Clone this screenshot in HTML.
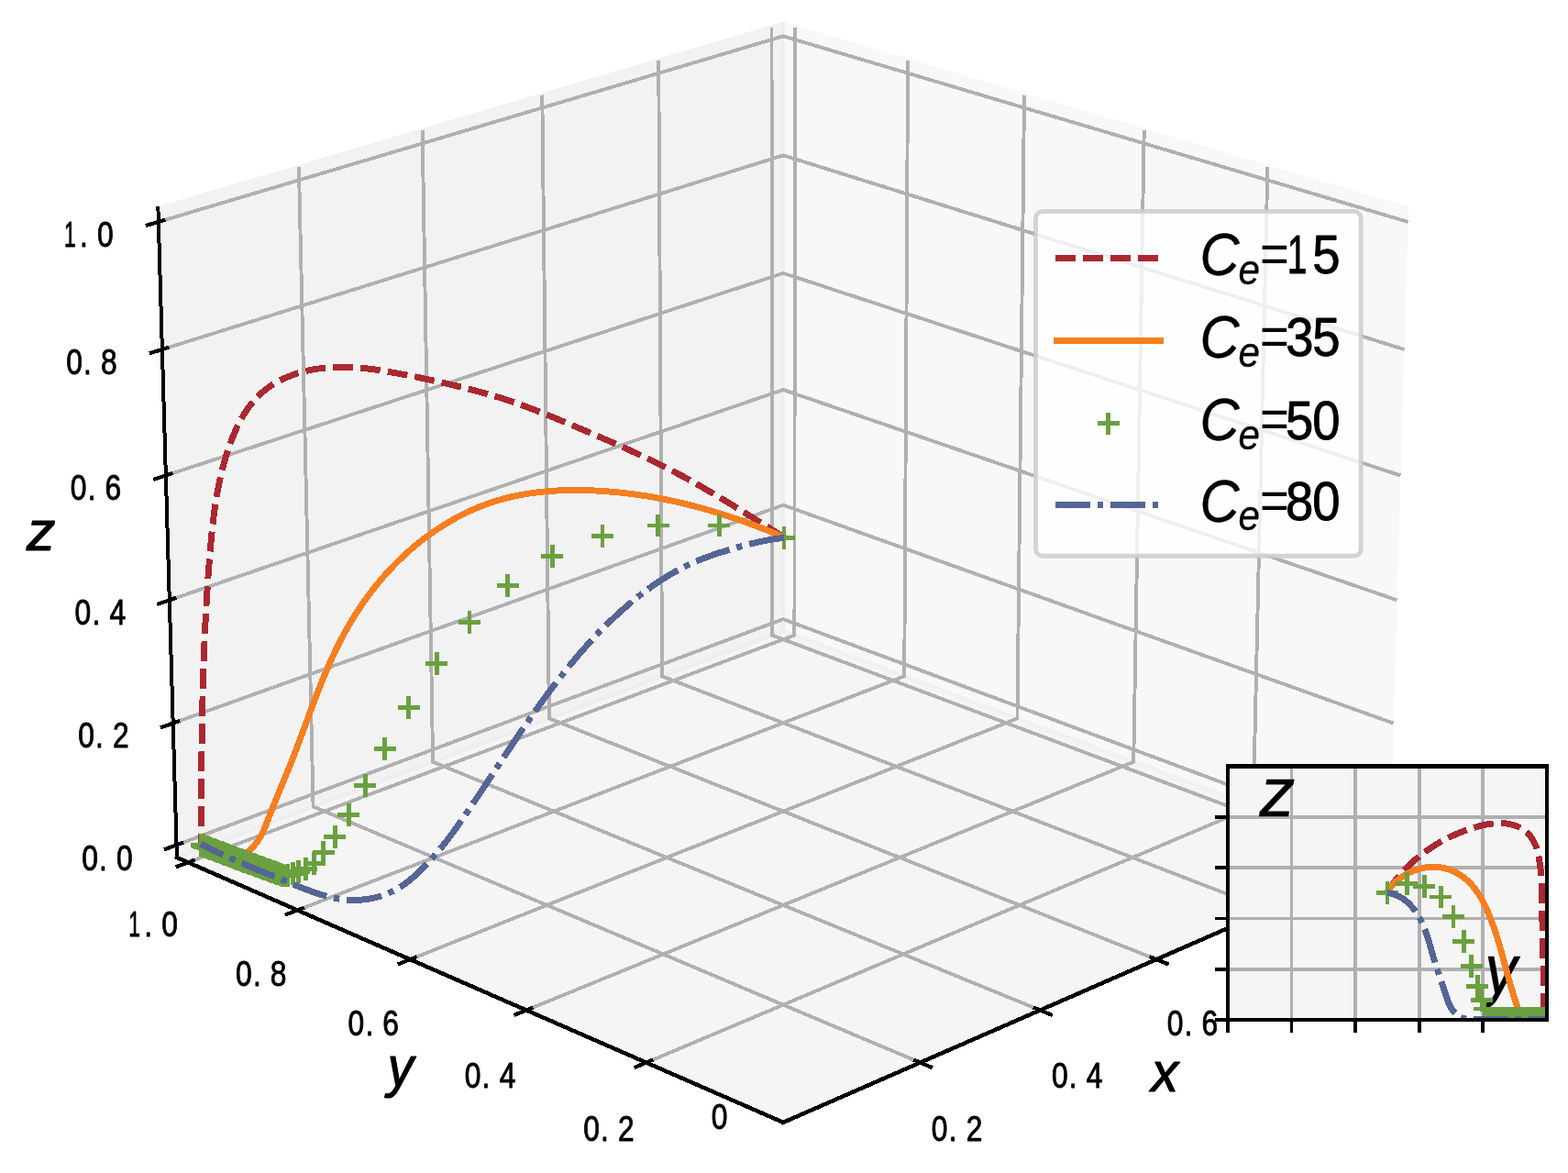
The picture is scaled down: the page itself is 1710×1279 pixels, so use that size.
<!DOCTYPE html>
<html><head><meta charset="utf-8"><title>Evolution trajectories</title>
<style>html,body{margin:0;padding:0;background:#fff}svg{display:block}path,polyline,rect,polygon,line{shape-rendering:crispEdges}text{font-family:"Liberation Sans",sans-serif;fill:#000;stroke:#000;stroke-width:0.9px;stroke-linejoin:round}.it{font-style:italic;stroke-width:0.35px}.ax{stroke-width:1.2px}</style>
</head><body>
<svg width="1710" height="1279" viewBox="0 0 1710 1279">
<rect width="1710" height="1279" fill="#fff"/>
<g opacity="0.5"><polygon points="1515.4,935.04 854.17,688 854.17,25.82 1535.91,227.33" fill="rgb(242,242,242)"/><polyline points="1515.4,935.04 854.17,688 854.17,25.82 1535.91,227.33" fill="none" stroke="rgb(242,242,242)" stroke-width="4.17" stroke-linejoin="miter"/></g>
<g opacity="0.5"><polygon points="192.93,935.04 854.17,688 854.17,25.82 172.42,227.33" fill="rgb(230,230,230)"/><polyline points="192.93,935.04 854.17,688 854.17,25.82 172.42,227.33" fill="none" stroke="rgb(230,230,230)" stroke-width="4.17" stroke-linejoin="miter"/></g>
<g opacity="0.5"><polygon points="854.17,1223.84 1515.4,935.04 854.17,688 192.93,935.04" fill="rgb(236,236,236)"/><polyline points="854.17,1223.84 1515.4,935.04 854.17,688 192.93,935.04" fill="none" stroke="rgb(236,236,236)" stroke-width="4.17" stroke-linejoin="miter"/></g>
<g fill="none" stroke="#b0b0b0" stroke-width="3.9" stroke-linejoin="round">
<polyline points="1003.52,1158.61 341.58,879.51 325.95,181.95"/>
<polyline points="704.81,1158.61 1366.75,879.51 1382.38,181.95"/>
<polyline points="1134.31,1101.49 472.1,830.74 460.62,142.14"/>
<polyline points="574.02,1101.49 1236.24,830.74 1247.71,142.14"/>
<polyline points="1261.07,1046.12 598.88,783.37 591.33,103.51"/>
<polyline points="447.26,1046.12 1109.45,783.37 1117,103.51"/>
<polyline points="1383.97,992.45 722.09,737.34 718.24,66"/>
<polyline points="324.36,992.45 986.24,737.34 990.09,66"/>
<polyline points="1503.19,940.38 841.88,692.59 841.53,29.55"/>
<polyline points="205.14,940.38 866.45,692.59 866.8,29.55"/>
<polyline points="192.53,921.31 854.17,675.12 1515.8,921.31"/>
<polyline points="188.68,788.59 854.17,550.72 1519.65,788.59"/>
<polyline points="184.79,654.32 854.17,424.98 1523.54,654.32"/>
<polyline points="180.86,518.47 854.17,297.86 1527.47,518.47"/>
<polyline points="176.87,381.01 854.17,169.36 1531.46,381.01"/>
<polyline points="172.84,241.92 854.17,39.43 1535.49,241.92"/>
</g>
<g fill="none" stroke="#000" stroke-width="4.5" stroke-linecap="square">
<polyline stroke-width="4" points="172.42,227.33 192.93,935.04"/>
<polyline points="192.93,935.04 854.17,1223.84"/>
<polyline points="854.17,1223.84 1515.4,935.04"/>
</g>
<g fill="none" stroke="#000" stroke-width="4.2">
<path d="M178.94,926.36L200.03,918.52"/>
<path d="M175.03,793.47L196.22,785.9"/>
<path d="M171.08,659.02L192.36,651.72"/>
<path d="M167.08,522.98L188.46,515.98"/>
<path d="M163.03,385.33L184.51,378.62"/>
<path d="M158.94,246.05L180.51,239.64"/>
<path d="M691.45,1164.25L712.18,1155.51"/>
<path d="M1016.88,1164.25L996.15,1155.51"/>
<path d="M560.59,1106.97L581.42,1098.46"/>
<path d="M1147.74,1106.97L1126.91,1098.46"/>
<path d="M433.78,1051.47L454.7,1043.17"/>
<path d="M1274.55,1051.47L1253.64,1043.17"/>
<path d="M310.83,997.66L331.82,989.57"/>
<path d="M1397.5,997.66L1376.51,989.57"/>
<path d="M191.56,945.47L212.63,937.57"/>
<path d="M1516.77,945.47L1495.7,937.57"/>
</g>
<g font-size="38.3">
<text transform="translate(95.9,269.28) scale(0.83,1)"><tspan x="-31.17" y="0" textLength="15.33" lengthAdjust="spacingAndGlyphs">1</tspan><tspan x="-10.75 12.12" y="0">.0</tspan></text>
<text transform="translate(100,408.38) scale(0.83,1)"><tspan x="-33.42 -10.75 12.12" y="0">0.8</tspan></text>
<text transform="translate(104.6,545.18) scale(0.83,1)"><tspan x="-33.42 -10.75 11.99" y="0">0.6</tspan></text>
<text transform="translate(109.3,681.08) scale(0.83,1)"><tspan x="-33.42 -10.75 12.24" y="0">0.4</tspan></text>
<text transform="translate(113,815.28) scale(0.83,1)"><tspan x="-33.42 -10.75 12.12" y="0">0.2</tspan></text>
<text transform="translate(117,948.58) scale(0.83,1)"><tspan x="-33.42 -10.75 12.12" y="0">0.0</tspan></text>
<text transform="translate(166.2,1021.18) scale(0.83,1)"><tspan x="-31.17" y="0" textLength="15.33" lengthAdjust="spacingAndGlyphs">1</tspan><tspan x="-10.75 12.12" y="0">.0</tspan></text>
<text transform="translate(284.8,1074.68) scale(0.83,1)"><tspan x="-33.42 -10.75 12.12" y="0">0.8</tspan></text>
<text transform="translate(407.3,1128.88) scale(0.83,1)"><tspan x="-33.42 -10.75 11.99" y="0">0.6</tspan></text>
<text transform="translate(534.5,1185.68) scale(0.83,1)"><tspan x="-33.42 -10.75 12.24" y="0">0.4</tspan></text>
<text transform="translate(664,1243.58) scale(0.83,1)"><tspan x="-33.42 -10.75 12.12" y="0">0.2</tspan></text>
<text transform="translate(1043.6,1243.58) scale(0.83,1)"><tspan x="-33.42 -10.75 12.12" y="0">0.2</tspan></text>
<text transform="translate(1174.7,1185.68) scale(0.83,1)"><tspan x="-33.42 -10.75 12.24" y="0">0.4</tspan></text>
<text transform="translate(1300.5,1129.08) scale(0.83,1)"><tspan x="-33.42 -10.75 11.99" y="0">0.6</tspan></text>
<text transform="translate(784.5,1231.38) scale(0.83,1)"><tspan x="-10.65" y="0">0</tspan></text>
</g>
<text class="it ax" font-size="61.5" transform="translate(29.08,599.7) scale(1.02,1)">z</text><text class="it ax" font-size="61.5" transform="translate(422.72,1183.57) scale(0.92,1)">y</text><text class="it ax" font-size="61.5" transform="translate(1255.47,1190.3) scale(0.96,1)">x</text>
<g fill="none" stroke-width="6.9" stroke-linejoin="round">
<path d="M855,585.8 851.6,583.69 848.2,581.58 844.81,579.46 841.41,577.34 838.01,575.22 834.62,573.09 831.22,570.97 827.83,568.85 824.43,566.72 821.03,564.6 817.63,562.48 814.23,560.37 810.82,558.26 807.41,556.15 804,554.04 800.59,551.95 797.17,549.86 793.75,547.77 790.32,545.7 786.89,543.63 783.45,541.57 780.01,539.52 776.57,537.48 773.11,535.46 769.65,533.44 766.18,531.44 762.71,529.45 759.23,527.48 755.74,525.52 752.24,523.57 748.73,521.64 745.22,519.73 741.69,517.84 738.15,515.96 734.61,514.11 731.06,512.27 727.49,510.45 723.92,508.64 720.34,506.85 716.75,505.08 713.15,503.32 709.55,501.58 705.94,499.85 702.32,498.13 698.69,496.43 695.06,494.74 691.42,493.06 687.78,491.39 684.13,489.74 680.48,488.09 676.82,486.45 673.16,484.82 669.49,483.2 665.82,481.59 662.15,479.99 658.47,478.39 654.79,476.8 651.11,475.21 647.42,473.63 643.74,472.05 640.05,470.48 636.36,468.91 632.67,467.34 628.98,465.78 625.29,464.22 621.59,462.66 617.9,461.11 614.2,459.56 610.5,458.02 606.8,456.49 603.1,454.97 599.39,453.47 595.67,451.97 591.95,450.49 588.23,449.02 584.5,447.57 580.76,446.14 577.02,444.72 573.27,443.33 569.52,441.95 565.75,440.6 561.98,439.27 558.2,437.97 554.41,436.69 550.61,435.44 546.8,434.21 542.98,433.02 539.14,431.85 535.3,430.71 531.45,429.6 527.6,428.51 523.73,427.45 519.86,426.4 515.98,425.38 512.1,424.38 508.21,423.39 504.32,422.43 500.42,421.47 496.52,420.53 492.62,419.61 488.71,418.69 484.81,417.79 480.9,416.9 476.99,416.01 473.08,415.14 469.17,414.29 465.26,413.44 461.34,412.61 457.43,411.79 453.51,410.98 449.59,410.19 445.67,409.41 441.74,408.65 437.82,407.9 433.89,407.17 429.96,406.45 426.02,405.75 422.09,405.08 418.15,404.43 414.2,403.8 410.25,403.22 406.3,402.67 402.33,402.16 398.36,401.71 394.39,401.31 390.4,400.96 386.4,400.68 382.4,400.46 378.38,400.32 374.35,400.25 370.31,400.27 366.26,400.36 362.2,400.55 358.13,400.83 354.08,401.2 350.03,401.66 345.99,402.22 341.97,402.88 337.98,403.65 334.02,404.51 330.09,405.49 326.21,406.57 322.37,407.76 318.58,409.07 314.86,410.49 311.19,412.04 307.59,413.7 304.06,415.48 300.62,417.39 297.25,419.43 293.98,421.6 290.8,423.9 287.72,426.33 284.75,428.9 281.88,431.61 279.12,434.44 276.48,437.39 273.93,440.45 271.5,443.61 269.18,446.87 266.96,450.21 264.86,453.64 262.86,457.13 260.95,460.69 259.15,464.31 257.43,467.98 255.79,471.68 254.23,475.43 252.74,479.19 251.31,482.98 249.95,486.78 248.65,490.59 247.4,494.42 246.21,498.26 245.07,502.11 243.99,505.97 242.96,509.84 241.97,513.72 241.04,517.61 240.14,521.51 239.3,525.42 238.49,529.33 237.73,533.26 237,537.19 236.31,541.13 235.65,545.08 235.03,549.03 234.44,552.99 233.88,556.96 233.35,560.93 232.85,564.9 232.36,568.88 231.91,572.86 231.47,576.85 231.05,580.84 230.65,584.83 230.27,588.82 229.9,592.81 229.55,596.81 229.2,600.81 228.87,604.8 228.54,608.8 228.22,612.8 227.91,616.8 227.6,620.79 227.3,624.79 227.01,628.79 226.73,632.79 226.46,636.79 226.19,640.78 225.93,644.78 225.68,648.78 225.43,652.78 225.19,656.78 224.96,660.78 224.73,664.77 224.51,668.77 224.3,672.77 224.09,676.77 223.89,680.77 223.69,684.77 223.5,688.77 223.32,692.77 223.14,696.77 222.97,700.77 222.81,704.77 222.65,708.77 222.49,712.77 222.34,716.77 222.2,720.77 222.06,724.77 221.92,728.77 221.79,732.77 221.67,736.77 221.55,740.78 221.43,744.78 221.32,748.78 221.21,752.78 221.11,756.78 221.01,760.78 220.92,764.79 220.82,768.79 220.74,772.79 220.65,776.79 220.58,780.8 220.5,784.8 220.43,788.8 220.36,792.81 220.29,796.81 220.23,800.81 220.17,804.82 220.11,808.82 220.06,812.82 220.01,816.83 219.96,820.83 219.91,824.84 219.87,828.84 219.83,832.85 219.79,836.85 219.75,840.86 219.72,844.86 219.68,848.87 219.65,852.87 219.62,856.88 219.6,860.89 219.57,864.89 219.54,868.9 219.52,872.91 219.5,876.91 219.48,880.92 219.46,884.93 219.44,888.93 219.42,892.94 219.4,896.95 219.38,900.96 219.36,904.97 219.35,908.97 219.33,912.98 219.32,916.99 219.3,921" stroke="#aa2830" stroke-dasharray="21.9 8.1"/>
<path d="M855,585.8 851.31,584.23 847.61,582.68 843.9,581.15 840.18,579.63 836.45,578.14 832.72,576.66 828.97,575.21 825.22,573.77 821.46,572.36 817.69,570.96 813.91,569.59 810.13,568.24 806.33,566.91 802.53,565.6 798.73,564.31 794.91,563.05 791.09,561.81 787.26,560.59 783.42,559.4 779.57,558.23 775.72,557.09 771.86,555.96 768,554.87 764.13,553.8 760.25,552.75 756.36,551.73 752.47,550.74 748.57,549.77 744.67,548.83 740.76,547.92 736.85,547.03 732.92,546.17 729,545.34 725.07,544.53 721.13,543.76 717.19,543.01 713.24,542.3 709.28,541.61 705.33,540.95 701.36,540.32 697.39,539.72 693.42,539.16 689.45,538.62 685.46,538.11 681.48,537.64 677.49,537.2 673.49,536.79 669.5,536.41 665.49,536.07 661.49,535.75 657.48,535.48 653.47,535.23 649.45,535.02 645.43,534.84 641.41,534.7 637.38,534.59 633.35,534.52 629.32,534.49 625.29,534.49 621.26,534.54 617.23,534.62 613.21,534.75 609.18,534.92 605.16,535.14 601.14,535.4 597.13,535.71 593.13,536.08 589.13,536.49 585.15,536.95 581.17,537.47 577.2,538.04 573.24,538.67 569.3,539.35 565.36,540.1 561.44,540.9 557.54,541.77 553.65,542.7 549.78,543.69 545.92,544.75 542.09,545.88 538.27,547.07 534.47,548.34 530.7,549.67 526.94,551.06 523.21,552.53 519.5,554.05 515.82,555.64 512.15,557.29 508.52,559 504.91,560.78 501.32,562.61 497.77,564.5 494.24,566.44 490.74,568.44 487.27,570.49 483.83,572.6 480.42,574.76 477.04,576.97 473.7,579.23 470.38,581.53 467.1,583.89 463.86,586.29 460.65,588.73 457.48,591.23 454.34,593.76 451.24,596.33 448.18,598.95 445.16,601.6 442.18,604.3 439.23,607.03 436.32,609.8 433.46,612.61 430.63,615.45 427.84,618.33 425.08,621.25 422.37,624.2 419.69,627.18 417.06,630.2 414.46,633.25 411.9,636.33 409.37,639.44 406.89,642.58 404.44,645.76 402.04,648.96 399.67,652.19 397.34,655.45 395.05,658.73 392.79,662.05 390.58,665.38 388.4,668.75 386.26,672.14 384.16,675.55 382.09,678.98 380.07,682.44 378.08,685.92 376.13,689.43 374.22,692.95 372.35,696.49 370.51,700.05 368.71,703.63 366.94,707.23 365.2,710.85 363.49,714.48 361.81,718.12 360.15,721.78 358.53,725.46 356.93,729.14 355.35,732.84 353.79,736.55 352.25,740.27 350.73,744 349.23,747.74 347.75,751.48 346.28,755.24 344.82,759 343.38,762.76 341.95,766.53 340.52,770.3 339.11,774.08 337.7,777.86 336.29,781.64 334.89,785.42 333.49,789.2 332.09,792.98 330.69,796.76 329.29,800.53 327.89,804.31 326.48,808.07 325.06,811.84 323.64,815.59 322.21,819.34 320.76,823.08 319.31,826.82 317.84,830.54 316.36,834.26 314.86,837.97 313.36,841.67 311.85,845.36 310.32,849.06 308.8,852.75 307.27,856.44 305.74,860.13 304.22,863.82 302.69,867.52 301.18,871.22 299.67,874.94 298.16,878.66 296.68,882.39 295.2,886.13 293.74,889.89 292.29,893.67 290.83,897.44 289.32,901.19 287.72,904.9 286,908.55 284.11,912.13 282.03,915.61 279.71,918.97 277.14,922.17 274.33,925.15 271.3,927.82 268.08,930.11 264.68,931.94 261.11,933.23 257.41,933.91 253.58,933.96 249.67,933.45 245.71,932.49 241.72,931.19 237.75,929.65 233.83,927.98 229.99,926.27 226.27,924.63 222.69,923.18 219.3,922" stroke="#f57f20" stroke-linecap="square"/>
</g>
<g fill="none" stroke="#6aa03f" stroke-width="4.9">
<path d="M843,586.4h24M855,574v24.8"/>
<path d="M772.2,573h24M784.2,560.6v24.8"/>
<path d="M705.8,573h24M717.8,560.6v24.8"/>
<path d="M645,584.4h24M657,572v24.8"/>
<path d="M590.4,606.3h24M602.4,593.9v24.8"/>
<path d="M541.9,638.6h24M553.9,626.2v24.8"/>
<path d="M500,678.4h24M512,666v24.8"/>
<path d="M464.1,723.3h24M476.1,710.9v24.8"/>
<path d="M433.6,771.6h24M445.6,759.2v24.8"/>
<path d="M407.9,816.4h24M419.9,804v24.8"/>
<path d="M386.2,856.4h24M398.2,844v24.8"/>
<path d="M368.2,888.4h24M380.2,876v24.8"/>
<path d="M353.3,912.6h24M365.3,900.2v24.8"/>
<path d="M340.6,929.5h24M352.6,917.1v24.8"/>
<path d="M330.7,941.5h24M342.7,929.1v24.8"/>
<path d="M321.6,947.1h24M333.6,934.7v24.8"/>
<path d="M313.8,950.6h24M325.8,938.2v24.8"/>
<path d="M307.5,952.8h24M319.5,940.4v24.8"/>
<path d="M301.9,954.2h24M313.9,941.8v24.8"/>
<path d="M297.7,954.9h24M309.7,942.5v24.8"/>
<path d="M296,954.5h24M308,942.1v24.8"/>
<path d="M294.03,953.77h24M306.03,941.37v24.8"/>
<path d="M292.07,953.04h24M304.07,940.64v24.8"/>
<path d="M290.1,952.31h24M302.1,939.91v24.8"/>
<path d="M288.13,951.58h24M300.13,939.18v24.8"/>
<path d="M286.17,950.84h24M298.17,938.44v24.8"/>
<path d="M284.2,950.11h24M296.2,937.71v24.8"/>
<path d="M282.23,949.38h24M294.23,936.98v24.8"/>
<path d="M280.27,948.65h24M292.27,936.25v24.8"/>
<path d="M278.3,947.92h24M290.3,935.52v24.8"/>
<path d="M276.33,947.19h24M288.33,934.79v24.8"/>
<path d="M274.37,946.46h24M286.37,934.06v24.8"/>
<path d="M272.4,945.73h24M284.4,933.33v24.8"/>
<path d="M270.43,945h24M282.43,932.6v24.8"/>
<path d="M268.47,944.26h24M280.47,931.86v24.8"/>
<path d="M266.5,943.53h24M278.5,931.13v24.8"/>
<path d="M264.53,942.8h24M276.53,930.4v24.8"/>
<path d="M262.57,942.07h24M274.57,929.67v24.8"/>
<path d="M260.6,941.34h24M272.6,928.94v24.8"/>
<path d="M258.63,940.61h24M270.63,928.21v24.8"/>
<path d="M256.67,939.88h24M268.67,927.48v24.8"/>
<path d="M254.7,939.15h24M266.7,926.75v24.8"/>
<path d="M252.73,938.42h24M264.73,926.02v24.8"/>
<path d="M250.77,937.68h24M262.77,925.28v24.8"/>
<path d="M248.8,936.95h24M260.8,924.55v24.8"/>
<path d="M246.83,936.22h24M258.83,923.82v24.8"/>
<path d="M244.87,935.49h24M256.87,923.09v24.8"/>
<path d="M242.9,934.76h24M254.9,922.36v24.8"/>
<path d="M240.93,934.03h24M252.93,921.63v24.8"/>
<path d="M238.97,933.3h24M250.97,920.9v24.8"/>
<path d="M237,932.57h24M249,920.17v24.8"/>
<path d="M235.03,931.84h24M247.03,919.44v24.8"/>
<path d="M233.07,931.1h24M245.07,918.7v24.8"/>
<path d="M231.1,930.37h24M243.1,917.97v24.8"/>
<path d="M229.13,929.64h24M241.13,917.24v24.8"/>
<path d="M227.17,928.91h24M239.17,916.51v24.8"/>
<path d="M225.2,928.18h24M237.2,915.78v24.8"/>
<path d="M223.23,927.45h24M235.23,915.05v24.8"/>
<path d="M221.27,926.72h24M233.27,914.32v24.8"/>
<path d="M219.3,925.99h24M231.3,913.59v24.8"/>
<path d="M217.33,925.26h24M229.33,912.86v24.8"/>
<path d="M215.37,924.52h24M227.37,912.12v24.8"/>
<path d="M213.4,923.79h24M225.4,911.39v24.8"/>
<path d="M211.43,923.06h24M223.43,910.66v24.8"/>
<path d="M209.47,922.33h24M221.47,909.93v24.8"/>
<path d="M207.5,921.6h24M219.5,909.2v24.8"/>
</g>
<path d="M855,586.4 850.99,586.84 847,587.36 843.03,587.95 839.08,588.61 835.15,589.33 831.23,590.11 827.33,590.95 823.44,591.84 819.56,592.77 815.68,593.75 811.82,594.77 807.96,595.82 804.11,596.9 800.25,598.01 796.4,599.14 792.56,600.29 788.72,601.47 784.88,602.68 781.06,603.93 777.26,605.22 773.47,606.55 769.7,607.93 765.95,609.36 762.23,610.85 758.53,612.4 754.87,614.01 751.24,615.69 747.63,617.42 744.06,619.22 740.52,621.07 737,622.98 733.52,624.94 730.06,626.95 726.64,629.02 723.24,631.13 719.87,633.3 716.53,635.51 713.22,637.77 709.94,640.07 706.69,642.41 703.46,644.79 700.26,647.21 697.09,649.67 693.94,652.17 690.83,654.7 687.74,657.27 684.67,659.86 681.64,662.49 678.63,665.14 675.64,667.82 672.69,670.53 669.76,673.26 666.85,676.02 663.97,678.8 661.11,681.61 658.28,684.43 655.47,687.28 652.68,690.16 649.92,693.05 647.18,695.96 644.46,698.9 641.76,701.85 639.08,704.82 636.43,707.82 633.79,710.83 631.17,713.86 628.58,716.9 626,719.96 623.44,723.04 620.89,726.13 618.37,729.24 615.86,732.37 613.37,735.5 610.89,738.66 608.43,741.82 605.99,745 603.56,748.18 601.14,751.38 598.74,754.6 596.35,757.82 593.98,761.05 591.61,764.29 589.26,767.54 586.93,770.8 584.6,774.06 582.28,777.34 579.98,780.62 577.68,783.9 575.39,787.19 573.11,790.49 570.85,793.79 568.58,797.1 566.33,800.41 564.08,803.73 561.84,807.05 559.61,810.37 557.38,813.69 555.15,817.02 552.93,820.35 550.71,823.69 548.5,827.02 546.29,830.36 544.08,833.69 541.87,837.03 539.66,840.37 537.45,843.71 535.25,847.05 533.04,850.39 530.83,853.73 528.62,857.07 526.4,860.4 524.18,863.74 521.96,867.07 519.74,870.4 517.51,873.73 515.27,877.06 513.03,880.38 510.78,883.7 508.53,887.01 506.26,890.32 503.98,893.62 501.68,896.9 499.37,900.18 497.04,903.44 494.69,906.68 492.32,909.91 489.92,913.11 487.49,916.3 485.03,919.46 482.55,922.59 480.03,925.7 477.47,928.78 474.87,931.83 472.24,934.84 469.56,937.82 466.84,940.77 464.08,943.67 461.26,946.54 458.4,949.36 455.48,952.14 452.51,954.86 449.47,957.5 446.37,960.06 443.2,962.51 439.95,964.86 436.63,967.07 433.22,969.15 429.72,971.07 426.14,972.83 422.48,974.43 418.74,975.85 414.94,977.12 411.08,978.22 407.18,979.15 403.24,979.93 399.27,980.54 395.28,980.99 391.27,981.28 387.27,981.41 383.27,981.38 379.29,981.19 375.33,980.84 371.38,980.34 367.46,979.71 363.56,978.95 359.68,978.07 355.81,977.09 351.96,976 348.13,974.83 344.31,973.58 340.51,972.26 336.72,970.88 332.94,969.45 329.18,967.99 325.42,966.49 321.68,964.98 317.94,963.45 314.21,961.93 310.49,960.41 306.77,958.91 303.07,957.41 299.36,955.92 295.66,954.43 291.97,952.94 288.28,951.45 284.6,949.95 280.92,948.45 277.24,946.93 273.56,945.41 269.89,943.87 266.22,942.31 262.55,940.74 258.88,939.14 255.21,937.52 251.54,935.88 247.87,934.21 244.21,932.53 240.56,930.83 236.92,929.11 233.28,927.38 229.66,925.65 226.06,923.9 222.47,922.15 218.9,920.4" fill="none" stroke="#546596" stroke-width="6.9" stroke-dasharray="38.65 7.82 6.48 7.82"/>
<rect x="1129.5" y="230.5" width="354.7" height="375.7" rx="7.5" ry="7.5" style="shape-rendering:geometricPrecision" fill="rgba(255,255,255,0.8)" stroke="rgba(204,204,204,0.85)" stroke-width="4.9"/><path d="M1151.1,281.1H1267.8" fill="none" stroke="#aa2830" stroke-width="6.9" stroke-dasharray="21.9 8.1"/><path d="M1148.7,371.4H1269.1" fill="none" stroke="#f57f20" stroke-width="6.9"/><path d="M1196.5,461.5h24M1208.5,449.5v24" fill="none" stroke="#6aa03f" stroke-width="4.9"/><path d="M1151.1,550.1H1267.8" fill="none" stroke="#546596" stroke-width="6.9" stroke-dasharray="38 7.7 6.4 7.7"/><text transform="translate(1312.6,298.2) scale(0.92,1)" font-size="59.3"><tspan class="it" font-size="65" x="-4.41" y="1.6">C</tspan><tspan class="it" font-size="46" x="41.19" y="11.3">e</tspan><tspan x="66.81" y="-1.5" style="stroke-width:.1px">=</tspan><tspan x="99.08" y="0" textLength="23.74" lengthAdjust="spacingAndGlyphs">1</tspan><tspan x="129.01" y="0">5</tspan></text><text transform="translate(1312.6,388.4) scale(0.92,1)" font-size="59.3"><tspan class="it" font-size="65" x="-4.41" y="1.6">C</tspan><tspan class="it" font-size="46" x="41.19" y="11.3">e</tspan><tspan x="66.81" y="-1.5" style="stroke-width:.1px">=</tspan><tspan x="97.39 129.01" y="0">35</tspan></text><text transform="translate(1312.6,478.5) scale(0.92,1)" font-size="59.3"><tspan class="it" font-size="65" x="-4.41" y="1.6">C</tspan><tspan class="it" font-size="46" x="41.19" y="11.3">e</tspan><tspan x="66.81" y="-1.5" style="stroke-width:.1px">=</tspan><tspan x="97.27 128.95" y="0">50</tspan></text><text transform="translate(1312.6,567) scale(0.92,1)" font-size="59.3"><tspan class="it" font-size="65" x="-4.41" y="1.6">C</tspan><tspan class="it" font-size="46" x="41.19" y="11.3">e</tspan><tspan x="66.81" y="-1.5" style="stroke-width:.1px">=</tspan><tspan x="97.21 128.95" y="0">80</tspan></text>
<rect x="1339" y="835.6" width="347.9" height="276.3" fill="#f5f5f5"/><svg x="1339" y="835.6" width="347.9" height="276.3" viewBox="1339 835.6 347.9 276.3"><g stroke="#b0b0b0" stroke-width="3.75" fill="none"><path d="M1339,835.6V1111.9"/><path d="M1339,1111.9H1686.9"/><path d="M1408.58,835.6V1111.9"/><path d="M1339,1056.64H1686.9"/><path d="M1478.16,835.6V1111.9"/><path d="M1339,1001.38H1686.9"/><path d="M1547.74,835.6V1111.9"/><path d="M1339,946.12H1686.9"/><path d="M1617.32,835.6V1111.9"/><path d="M1339,890.86H1686.9"/><path d="M1686.9,835.6V1111.9"/><path d="M1339,835.6H1686.9"/></g></svg><g stroke="#000" stroke-width="3.75" fill="none"><path d="M1339,1111.9v14"/><path d="M1339,1111.9h-14"/><path d="M1408.58,1111.9v14"/><path d="M1339,1056.64h-14"/><path d="M1478.16,1111.9v14"/><path d="M1339,1001.38h-14"/><path d="M1547.74,1111.9v14"/><path d="M1339,946.12h-14"/><path d="M1617.32,1111.9v14"/><path d="M1339,890.86h-14"/></g><text class="it" font-size="75.6" transform="translate(1373.47,890.1) scale(1.03,1)">z</text><text class="it" font-size="75.6" transform="translate(1618.96,1082.92) scale(0.94,1)">y</text><svg x="1339" y="835.6" width="347.9" height="276.3" viewBox="1339 835.6 347.9 276.3"><path d="M1513,972.5 1515.28,969.06 1517.63,965.69 1520.05,962.39 1522.54,959.17 1525.1,956.02 1527.73,952.94 1530.43,949.95 1533.19,947.02 1536.01,944.17 1538.9,941.4 1541.85,938.7 1544.87,936.08 1547.94,933.54 1551.08,931.07 1554.27,928.68 1557.53,926.36 1560.84,924.13 1564.2,921.97 1567.62,919.88 1571.1,917.88 1574.62,915.95 1578.2,914.1 1581.84,912.33 1585.52,910.64 1589.25,909.02 1593.03,907.49 1596.86,906.03 1600.73,904.66 1604.65,903.36 1608.61,902.14 1612.62,901.01 1616.65,900 1620.71,899.12 1624.77,898.41 1628.83,897.89 1632.88,897.6 1636.91,897.55 1640.9,897.77 1644.85,898.3 1648.74,899.16 1652.54,900.35 1656.22,901.88 1659.71,903.74 1662.97,905.93 1665.95,908.44 1668.61,911.27 1670.9,914.4 1672.84,917.8 1674.48,921.43 1675.84,925.24 1676.96,929.18 1677.88,933.22 1678.64,937.3 1679.26,941.39 1679.78,945.47 1680.2,949.54 1680.53,953.6 1680.8,957.65 1681,961.7 1681.15,965.74 1681.26,969.78 1681.35,973.82 1681.42,977.85 1681.49,981.88 1681.57,985.91 1681.65,989.94 1681.73,993.98 1681.82,998.01 1681.91,1002.04 1682.01,1006.07 1682.1,1010.1 1682.2,1014.13 1682.3,1018.16 1682.4,1022.19 1682.5,1026.22 1682.6,1030.26 1682.7,1034.29 1682.8,1038.32 1682.9,1042.35 1682.99,1046.38 1683.09,1050.42 1683.18,1054.45 1683.27,1058.49 1683.36,1062.52 1683.44,1066.56 1683.52,1070.59 1683.59,1074.63 1683.66,1078.67 1683.73,1082.7 1683.79,1086.74 1683.84,1090.78 1683.89,1094.83 1683.93,1098.87 1683.96,1102.91 1683.98,1106.95 1684,1111" fill="none" stroke="#aa2830" stroke-width="6.9" stroke-dasharray="21.9 8.1"/><path d="M1513,972.5 1515.26,969.22 1517.76,966.1 1520.49,963.15 1523.43,960.39 1526.57,957.82 1529.87,955.46 1533.33,953.31 1536.93,951.39 1540.64,949.72 1544.44,948.29 1548.32,947.12 1552.26,946.22 1556.24,945.61 1560.23,945.28 1564.23,945.24 1568.2,945.48 1572.13,946 1575.99,946.81 1579.78,947.9 1583.45,949.27 1587.02,950.9 1590.46,952.79 1593.77,954.92 1596.94,957.27 1599.96,959.81 1602.83,962.55 1605.54,965.45 1608.08,968.51 1610.46,971.71 1612.7,975.03 1614.8,978.46 1616.78,981.98 1618.64,985.59 1620.4,989.25 1622.06,992.96 1623.65,996.71 1625.16,1000.48 1626.61,1004.26 1628,1008.05 1629.34,1011.84 1630.63,1015.65 1631.87,1019.47 1633.07,1023.29 1634.23,1027.12 1635.37,1030.96 1636.47,1034.8 1637.56,1038.64 1638.63,1042.48 1639.68,1046.33 1640.72,1050.17 1641.76,1054.02 1642.8,1057.86 1643.85,1061.71 1644.91,1065.54 1645.98,1069.38 1647.07,1073.21 1648.18,1077.03 1649.32,1080.85 1650.49,1084.65 1651.7,1088.45 1652.95,1092.24 1654.25,1096.02 1655.6,1099.78 1657.01,1103.54 1658.47,1107.28 1660,1111 1686.9,1111.5" fill="none" stroke="#f57f20" stroke-width="6.9"/><g fill="none" stroke="#6aa03f" stroke-width="4.9"><path d="M1501,973.5h24M1513,961.1v24.8"/><path d="M1522.2,963.4h24M1534.2,951v24.8"/><path d="M1541.4,966.2h24M1553.4,953.8v24.8"/><path d="M1559.2,978h24M1571.2,965.6v24.8"/><path d="M1573,999.5h24M1585,987.1v24.8"/><path d="M1584.4,1026.5h24M1596.4,1014.1v24.8"/><path d="M1592.6,1053.5h24M1604.6,1041.1v24.8"/><path d="M1599.3,1075.2h24M1611.3,1062.8v24.8"/><path d="M1604,1090.5h24M1616,1078.1v24.8"/><path d="M1607,1100h24M1619,1087.6v24.8"/><path d="M1610,1110.8h24M1622,1098.4v24.8"/><path d="M1612,1110.8h24M1624,1098.4v24.8"/><path d="M1614,1110.8h24M1626,1098.4v24.8"/><path d="M1616,1110.8h24M1628,1098.4v24.8"/><path d="M1618,1110.8h24M1630,1098.4v24.8"/><path d="M1620,1110.8h24M1632,1098.4v24.8"/><path d="M1622,1110.8h24M1634,1098.4v24.8"/><path d="M1624,1110.8h24M1636,1098.4v24.8"/><path d="M1626,1110.8h24M1638,1098.4v24.8"/><path d="M1628,1110.8h24M1640,1098.4v24.8"/><path d="M1630,1110.8h24M1642,1098.4v24.8"/><path d="M1632,1110.8h24M1644,1098.4v24.8"/><path d="M1634,1110.8h24M1646,1098.4v24.8"/><path d="M1636,1110.8h24M1648,1098.4v24.8"/><path d="M1638,1110.8h24M1650,1098.4v24.8"/><path d="M1640,1110.8h24M1652,1098.4v24.8"/><path d="M1642,1110.8h24M1654,1098.4v24.8"/><path d="M1644,1110.8h24M1656,1098.4v24.8"/><path d="M1646,1110.8h24M1658,1098.4v24.8"/><path d="M1648,1110.8h24M1660,1098.4v24.8"/><path d="M1650,1110.8h24M1662,1098.4v24.8"/><path d="M1652,1110.8h24M1664,1098.4v24.8"/><path d="M1654,1110.8h24M1666,1098.4v24.8"/><path d="M1656,1110.8h24M1668,1098.4v24.8"/><path d="M1658,1110.8h24M1670,1098.4v24.8"/><path d="M1660,1110.8h24M1672,1098.4v24.8"/><path d="M1662,1110.8h24M1674,1098.4v24.8"/><path d="M1664,1110.8h24M1676,1098.4v24.8"/><path d="M1666,1110.8h24M1678,1098.4v24.8"/><path d="M1668,1110.8h24M1680,1098.4v24.8"/><path d="M1670,1110.8h24M1682,1098.4v24.8"/><path d="M1672,1110.8h24M1684,1098.4v24.8"/><path d="M1674,1110.8h24M1686,1098.4v24.8"/></g><path d="M1513,973.5 1517.2,974.27 1521.15,975.44 1524.88,976.98 1528.37,978.87 1531.64,981.07 1534.7,983.54 1537.56,986.27 1540.21,989.22 1542.68,992.36 1544.96,995.66 1547.06,999.09 1548.99,1002.62 1550.76,1006.22 1552.39,1009.88 1553.88,1013.6 1555.27,1017.36 1556.57,1021.15 1557.78,1024.98 1558.95,1028.83 1560.07,1032.7 1561.17,1036.57 1562.26,1040.44 1563.37,1044.3 1564.51,1048.15 1565.69,1051.98 1566.93,1055.77 1568.21,1059.56 1569.52,1063.33 1570.83,1067.09 1572.14,1070.87 1573.43,1074.65 1574.68,1078.46 1575.88,1082.29 1577.09,1086.14 1578.39,1089.96 1579.87,1093.73 1581.64,1097.4 1583.72,1100.87 1586.16,1104.04 1588.97,1106.78 1592.2,1108.98 1595.86,1110.52 1600,1111.3 1686.9,1111.9" fill="none" stroke="#546596" stroke-width="6.9" stroke-dasharray="38 7.7 6.4 7.7"/></svg><rect x="1339" y="835.6" width="347.9" height="276.3" fill="none" stroke="#000" stroke-width="4.3"/>
</svg></body></html>
